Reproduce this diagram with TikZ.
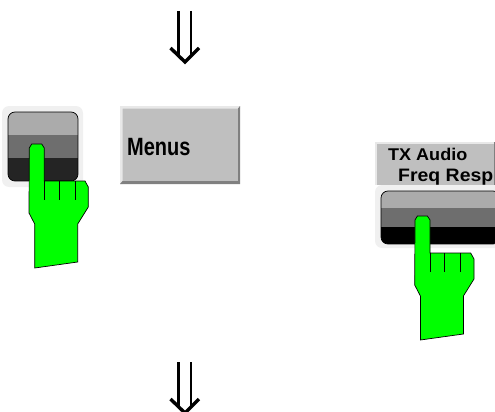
\documentclass[tikz,border=0pt]{standalone}
\usepackage{fontspec}
\setmainfont{Liberation Sans}
\definecolor{halo}{HTML}{F0F0F0}
\definecolor{bandA}{HTML}{ABABAB}
\definecolor{bandB}{HTML}{6E6E6E}
\definecolor{bandC}{HTML}{242424}
\definecolor{softkey}{HTML}{BFBFBF}
\definecolor{softdark}{HTML}{808080}
\definecolor{softlight}{HTML}{E8E8E8}
\tikzset{
  handshape/.style={draw=black,line width=0.7pt,fill=green,line join=miter},
  fingerline/.style={draw=black,line width=0.9pt},
  keytext/.style={inner sep=0pt,text=black},
  bigarrow/.pic={
    \draw[line width=3.6pt] (-6.5,0) -- (-6.5,46);
    \draw[line width=2.6pt] (6,0) -- (6,46);
    \draw[line width=3.4pt,miter limit=10] (-14.5,37) -- (0,51) -- (14,37);
  },
  hand/.pic={
    \draw[handshape] (29.3,148) -- (31.7,144) -- (41.7,144) -- (44.3,148) -- (44.3,181)
      -- (85,181) -- (88.3,187) -- (88.3,207) -- (77.7,224) -- (77.7,262) -- (34.7,268)
      -- (34.7,224) -- (29,213) -- cycle;
    \draw[fingerline] (44.3,181) -- (44.3,200) (59,181) -- (59,200) (75,181) -- (75,200);
  }
}
\begin{document}
\begin{tikzpicture}[x=1pt,y=-1pt]
\useasboundingbox (0,0) rectangle (495,412);
\clip (0,0) rectangle (495,412);
% arrows
\pic at (185,11) {bigarrow};
\pic at (185,362) {bigarrow};
% left key
\fill[halo,rounded corners=7pt] (2,106) rectangle (83,187);
\begin{scope}
  \clip[rounded corners=7pt] (8,112) rectangle (78,181);
  \fill[bandA] (8,112) rectangle (78,135);
  \fill[bandB] (8,135) rectangle (78,158);
  \fill[bandC] (8,158) rectangle (78,181);
\end{scope}
\draw[black,line width=0.7pt,rounded corners=7pt] (8,112) rectangle (78,181);
\pic at (0,0) {hand};
% Menus softkey
\fill[softkey] (120,106) rectangle (240,184);
\fill[softlight] (120,106) -- (240,106) -- (240,108.5) -- (122.5,108.5) -- (122.5,184) -- (120,184) -- cycle;
\fill[softdark] (240,106) -- (240,184) -- (120,184) -- (122.5,181) -- (238,181) -- (238,108.5) -- cycle;
\node[keytext,anchor=base west,font=\bfseries\fontsize{25}{25}\selectfont,xscale=0.8] (menus) at (127,155.5) {Menus};
% right softkey
\fill[softkey] (375,142) rectangle (495,185);
\fill[softlight] (375,142) rectangle (495,143.5);
\fill[softlight] (375,142) rectangle (376.5,185);
\fill[softdark] (493.5,142) rectangle (495,185);
\node[keytext,anchor=base west,font=\bfseries\fontsize{17}{17}\selectfont,xscale=1.06] (tx) at (388,160.5) {TX Audio};
\node[keytext,anchor=base west,font=\bfseries\fontsize{18}{18}\selectfont,xscale=1.08] (freq) at (398,181) {Freq Resp};
% right key
\fill[halo,rounded corners=7pt] (375,185) rectangle (505,248);
\begin{scope}
  \clip[rounded corners=7pt] (381,191) rectangle (500,244);
  \fill[bandA] (381,191) rectangle (500,208);
  \fill[bandB] (381,208) rectangle (500,227);
  \fill[black] (381,227) rectangle (500,244);
\end{scope}
\draw[black,line width=0.7pt,rounded corners=7pt] (381,191) rectangle (500,244);
\pic at (385.7,72) {hand};
\end{tikzpicture}
\end{document}
